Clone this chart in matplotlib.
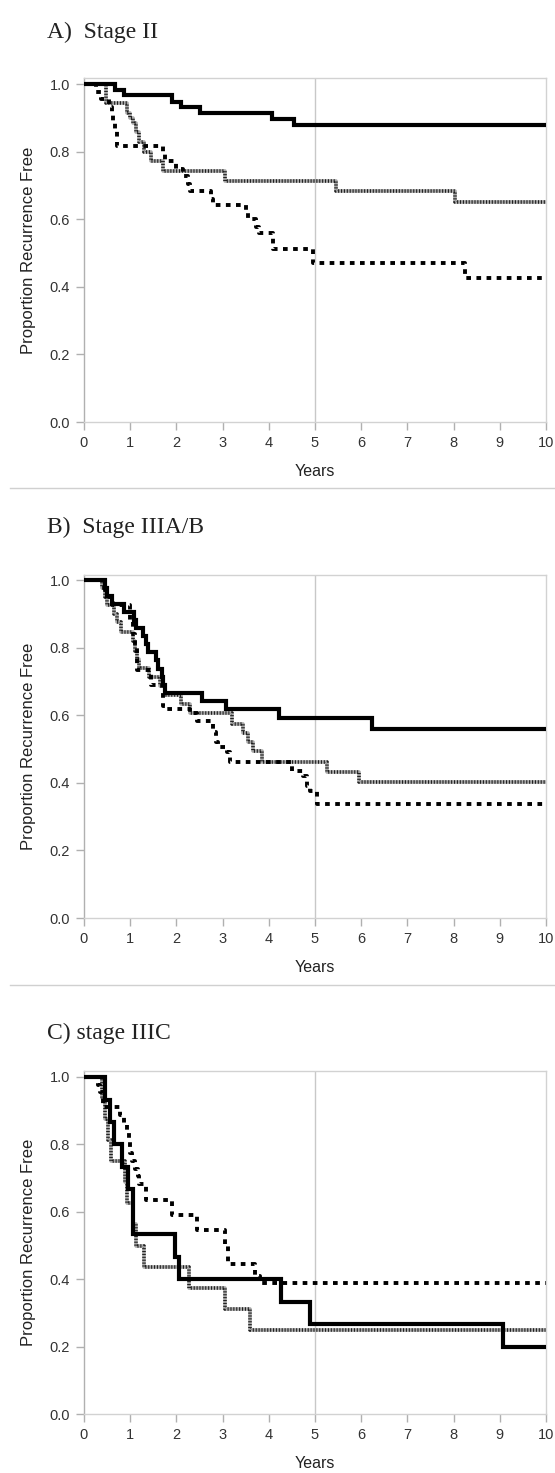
import matplotlib
matplotlib.use("Agg")
import matplotlib.pyplot as plt
from matplotlib.lines import Line2D

# ---------------- data ----------------
titles = ["A)  Stage II", "B)  Stage IIIA/B", "C) stage IIIC"]
x_ticks = [0, 1, 2, 3, 4, 5, 6, 7, 8, 9, 10]
y_ticks = [0.0, 0.2, 0.4, 0.6, 0.8, 1.0]

# Panel A
a_solid_t = [0, 0.67, 0.86, 1.91, 2.1, 2.52, 4.07, 4.55]
a_solid_s = [1.0, 0.983, 0.966, 0.948, 0.931, 0.914, 0.897, 0.879]
a_gray_t = [0, 0.48, 0.93, 1.0, 1.05, 1.12, 1.2, 1.3, 1.45, 1.72, 3.05, 5.46, 8.02]
a_gray_s = [1.0, 0.943, 0.914, 0.9, 0.886, 0.857, 0.829, 0.80, 0.771, 0.742, 0.714, 0.684, 0.651]
a_dash_t = [0, 0.27, 0.37, 0.55, 0.6, 0.63, 0.68, 0.72, 1.72, 1.75, 2.0, 2.15, 2.25, 2.3,
            2.75, 2.8, 3.5, 3.55, 3.72, 3.78, 4.1, 4.95, 8.25]
a_dash_s = [1.0, 0.977, 0.955, 0.932, 0.909, 0.886, 0.864, 0.818, 0.795, 0.773, 0.75, 0.727,
            0.705, 0.682, 0.659, 0.641, 0.62, 0.60, 0.577, 0.558, 0.513, 0.47, 0.425]

# Panel B
b_solid_t = [0, 0.45, 0.5, 0.6, 0.87, 1.08, 1.12, 1.27, 1.35, 1.38, 1.55, 1.6, 1.68, 1.72,
             1.75, 2.55, 3.08, 4.22, 6.24]
b_solid_s = [1.0, 0.976, 0.952, 0.929, 0.905, 0.881, 0.857, 0.833, 0.81, 0.786, 0.762, 0.738,
             0.714, 0.69, 0.667, 0.643, 0.619, 0.591, 0.56]
b_gray_t = [0, 0.38, 0.45, 0.5, 0.65, 0.72, 0.8, 1.05, 1.1, 1.15, 1.2, 1.4, 1.65, 1.75, 2.1,
            2.3, 3.2, 3.45, 3.55, 3.65, 3.85, 5.25, 5.95]
b_gray_s = [1.0, 0.975, 0.95, 0.925, 0.9, 0.875, 0.845, 0.82, 0.79, 0.765, 0.74, 0.713, 0.686,
            0.66, 0.633, 0.606, 0.575, 0.548, 0.52, 0.493, 0.461, 0.431, 0.401]
b_dash_t = [0, 0.45, 0.55, 0.62, 1.0, 1.05, 1.1, 1.15, 1.45, 1.7, 1.75, 2.3, 2.45, 2.8, 2.85,
            2.9, 3.1, 3.15, 4.5, 4.75, 4.82, 4.9, 5.05]
b_dash_s = [1.0, 0.97, 0.95, 0.927, 0.88, 0.84, 0.8, 0.735, 0.69, 0.626, 0.617, 0.606, 0.582,
            0.55, 0.52, 0.505, 0.49, 0.461, 0.435, 0.42, 0.39, 0.375, 0.336]

# Panel C
c_solid_t = [0, 0.46, 0.56, 0.64, 0.83, 0.96, 1.06, 1.96, 2.05, 4.27, 4.9, 9.06]
c_solid_s = [1.0, 0.933, 0.867, 0.80, 0.733, 0.667, 0.533, 0.467, 0.40, 0.333, 0.267, 0.20]
c_gray_t = [0, 0.38, 0.45, 0.52, 0.58, 0.88, 0.92, 1.05, 1.12, 1.3, 2.28, 3.05, 3.6]
c_gray_s = [1.0, 0.9375, 0.875, 0.8125, 0.75, 0.6875, 0.625, 0.5625, 0.50, 0.4375, 0.375,
            0.3125, 0.25]
c_dash_t = [0, 0.3, 0.35, 0.42, 0.78, 0.87, 0.93, 0.97, 1.0, 1.03, 1.1, 1.17, 1.2, 1.35, 1.9,
            2.45, 3.05, 3.12, 3.7, 3.8]
c_dash_s = [1.0, 0.977, 0.955, 0.91, 0.886, 0.864, 0.841, 0.818, 0.773, 0.75, 0.727, 0.705,
            0.682, 0.636, 0.59, 0.545, 0.5, 0.445, 0.41, 0.39]

panels = [
    (a_solid_t, a_solid_s, a_gray_t, a_gray_s, a_dash_t, a_dash_s),
    (b_solid_t, b_solid_s, b_gray_t, b_gray_s, b_dash_t, b_dash_s),
    (c_solid_t, c_solid_s, c_gray_t, c_gray_s, c_dash_t, c_dash_s),
]
END = 10

# ---------------- layout (pixels) ----------------
W, H = 555, 1473
fig = plt.figure(figsize=(W / 100, H / 100), dpi=100)
fig.patch.set_facecolor("white")

# (left, right, top, bottom(y=0), y of 1.0, title baseline)
boxes = [
    (84, 546, 78, 422, 84, 38),
    (84, 546, 575, 918, 580, 533),
    (84, 546, 1071, 1414, 1077, 1039),
]
sans = ["Liberation Sans", "DejaVu Sans"]
serif = ["Liberation Serif", "DejaVu Serif"]
spine_col = "#d2d2d2"


def ext(t, s):
    return list(t) + [END], list(s) + [s[-1]]


for (l, r, top, bot, one, tb), title, data in zip(boxes, titles, panels):
    ax = fig.add_axes([l / W, 1 - bot / H, (r - l) / W, (bot - top) / H])
    ytop = 1 + (one - top) / (bot - one)
    ax.set_xlim(0, 10)
    ax.set_ylim(0, ytop)
    ax.axvline(5, color="#c8c8c8", lw=1.0, zorder=1)

    st, ss, gt, gs, dt, ds = data
    x, y = ext(gt, gs)
    ax.plot(x, y, drawstyle="steps-post", color="#a8a8a8", lw=2.6, zorder=2,
            solid_capstyle="butt")
    ax.plot(x, y, drawstyle="steps-post", color="#202020", lw=2.6, zorder=2.1,
            linestyle=(0, (0.3, 0.5)), dash_capstyle="butt")
    x, y = ext(dt, ds)
    ax.plot(x, y, drawstyle="steps-post", color="black", lw=2.8, zorder=3,
            linestyle=(0, (1.2, 1.4)), dash_capstyle="butt")
    x, y = ext(st, ss)
    ax.plot(x, y, drawstyle="steps-post", color="black", lw=3.0, zorder=4,
            solid_joinstyle="miter")

    for sp in ax.spines.values():
        sp.set_color(spine_col)
        sp.set_linewidth(1.0)
    ax.spines["left"].set_color("#b0b0b0")

    ax.set_xticks(x_ticks)
    ax.set_xticklabels([str(v) for v in x_ticks], fontfamily=sans, fontsize=10.5,
                       color="#333333")
    ax.set_yticks(y_ticks)
    ax.set_yticklabels([f"{v:.1f}" for v in y_ticks], fontfamily=sans, fontsize=10.5,
                       color="#333333")
    ax.tick_params(axis="both", length=6, width=1.0, color="#b0b0b0", pad=4)
    ax.set_xlabel("Years", fontfamily=sans, fontsize=11.5, color="#222222", labelpad=10)
    ax.set_ylabel("Proportion Recurrence Free", fontfamily=sans, fontsize=12,
                  color="#222222", labelpad=10)

    fig.text(47 / W, 1 - tb / H, title, fontfamily=serif, fontsize=17, color="#222222",
             va="baseline", ha="left")

# separators
for yy in (488, 985):
    fig.add_artist(Line2D([10 / W, 1], [1 - yy / H, 1 - yy / H], color="#d0d0d0", lw=1.0,
                          transform=fig.transFigure))

fig.savefig("out.png", dpi=100, facecolor="white")
